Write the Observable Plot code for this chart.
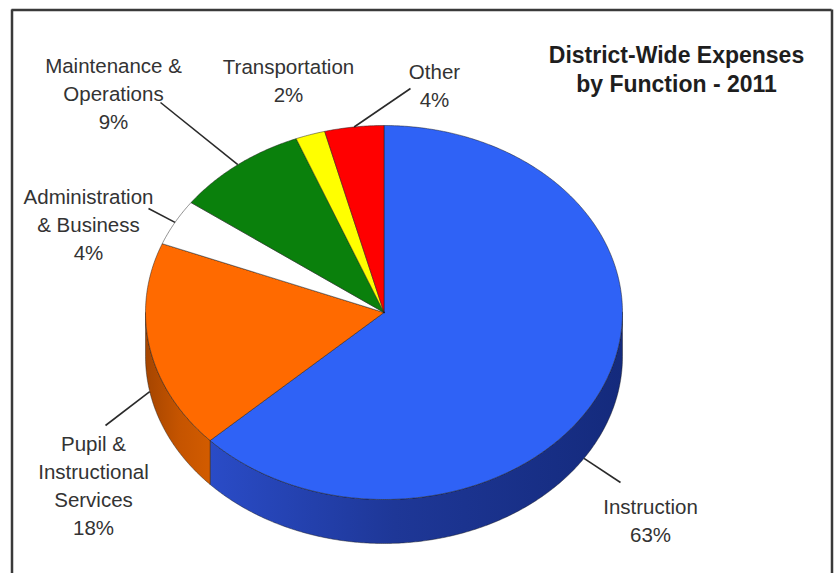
<!DOCTYPE html>
<html>
<head>
<meta charset="utf-8">
<script src="https://cdn.jsdelivr.net/npm/d3@7"></script>
<script src="https://cdn.jsdelivr.net/npm/@observablehq/plot@0.6"></script>
<style>
  html, body { margin: 0; padding: 0; background: #ffffff; }
  #chart svg { display: block; }
</style>
</head>
<body>
<div id="chart"></div>
<script>
// ---- Data ----
const categories = ["Instruction", "Pupil & Instructional Services", "Administration & Business", "Maintenance & Operations", "Transportation", "Other"];
const percents = [63, 18, 4, 9, 2, 4];
const labelLines = [
  ["Instruction"],
  ["Pupil &", "Instructional", "Services"],
  ["Administration", "& Business"],
  ["Maintenance &", "Operations"],
  ["Transportation"],
  ["Other"]
];
const titleLines = ["District-Wide Expenses", "by Function - 2011"];

// ---- Styles ----
const topColors = ["#2f62f6", "#ff6a00", "#ffffff", "#0a800c", "#ffff00", "#ff0000"];
const sideColors = ["url(#sideBlue)", "url(#sideOrange)", "#d9d9d9", "#065a07", "#b3b300", "#b30000"];

// ---- Layout (pixel-like data space) ----
const W = 834, H = 573;
const cx = 383.5, cy = 312, rx = 238.5, ry = 187, depth = 44;
const labelPos = [[650, 508], [93, 445], [88, 198], [113, 67], [288, 68], [434, 73]];
const leaderEnd = [[620, 482], [105, 425], [148, 208], [160, 102], null, [410, 88]];
const leaderRim = ["bottom", "bottom", "top", "top", null, "top"];
const leaderShift = [9.6, 0, 0, 0, 0, 0];
const fontSize = 20.5, lineH = 28;

function rim(deg, dy = 0) {
  const r = deg * Math.PI / 180;
  return {x: cx + rx * Math.sin(r), y: cy - ry * Math.cos(r) + dy};
}
function arc(a0, a1, dy = 0) {
  const n = Math.max(2, Math.ceil(Math.abs(a1 - a0) / 0.5));
  const pts = [];
  for (let i = 0; i <= n; i++) pts.push(rim(a0 + (a1 - a0) * i / n, dy));
  return pts;
}

// angles from the data (clockwise from 12 o'clock)
const total = d3.sum(percents);
const slices = [];
let acc = 0;
percents.forEach((p, i) => {
  const a0 = acc / total * 360;
  acc += p;
  const a1 = acc / total * 360;
  slices.push({i, name: categories[i], value: p, a0, a1, mid: (a0 + a1) / 2});
});

const marks = [];

// side faces (front half only: 90..270 degrees)
slices.forEach(s => {
  const b0 = Math.max(s.a0, 90), b1 = Math.min(s.a1, 270);
  if (b1 <= b0) return;
  const pts = [...arc(b0, b1, 0), ...arc(b1, b0, depth)];
  pts.push(pts[0]);
  marks.push(Plot.line(pts, {x: "x", y: "y", fill: sideColors[s.i], stroke: "#1a1a1a", strokeWidth: 0.8, strokeOpacity: 0.55, curve: "linear"}));
});

// top faces
slices.forEach(s => {
  const c = {x: cx, y: cy};
  const pts = [c, ...arc(s.a0, s.a1, 0), c];
  marks.push(Plot.line(pts, {x: "x", y: "y", fill: topColors[s.i], stroke: "#1a1a1a", strokeWidth: 0.8, strokeOpacity: 0.6, curve: "linear"}));
});

// leader lines
const leaders = [];
slices.forEach(s => {
  const end = leaderEnd[s.i];
  if (!end) return;
  const st = rim(s.mid + leaderShift[s.i], leaderRim[s.i] === "bottom" ? depth : 0);
  leaders.push({x1: st.x, y1: st.y, x2: end[0], y2: end[1]});
});
marks.push(Plot.link(leaders, {x1: "x1", y1: "y1", x2: "x2", y2: "y2", stroke: "#2a2a2a", strokeWidth: 1.6}));

// labels
const labels = slices.map(s => ({
  text: [...labelLines[s.i], s.value + "%"].join("\n"),
  x: labelPos[s.i][0],
  y: labelPos[s.i][1] - 0.71 * fontSize
}));
marks.push(Plot.text(labels, {
  x: "x", y: "y", text: "text", textAnchor: "middle", lineAnchor: "top",
  lineHeight: lineH / fontSize, fontSize, fill: "#333333",
  fontFamily: "'Liberation Sans', Arial, sans-serif"
}));

// title
marks.push(Plot.text([titleLines.join("\n")], {
  x: 676, y: 58 - 0.71 * 23, text: d => d, textAnchor: "middle", lineAnchor: "top",
  lineHeight: 29 / 23, fontSize: 23, fontWeight: "bold", fill: "#1e1e1e",
  fontFamily: "'Liberation Sans', Arial, sans-serif"
}));

// frame (left, top, right edges)
marks.push(Plot.ruleX([11.5, 831.5], {y1: 9.5, y2: H, stroke: "#3a3a3a", strokeWidth: 2.5}));
marks.push(Plot.ruleY([9.5], {x1: 11.5, x2: 831.5, stroke: "#3a3a3a", strokeWidth: 2.5}));

const svg = Plot.plot({
  width: W, height: H,
  margin: 0,
  x: {domain: [0, W], range: [0, W], axis: null},
  y: {domain: [0, H], range: [0, H], axis: null},
  style: {background: "#ffffff"},
  marks
});

// gradients for the side shading
const defs = d3.select(svg).insert("defs", ":first-child");
const gb = defs.append("linearGradient").attr("id", "sideBlue")
  .attr("gradientUnits", "userSpaceOnUse").attr("x1", 205).attr("x2", 625).attr("y1", 0).attr("y2", 0);
gb.append("stop").attr("offset", 0).attr("stop-color", "#2a4cc8");
gb.append("stop").attr("offset", 0.45).attr("stop-color", "#1e3797");
gb.append("stop").attr("offset", 1).attr("stop-color", "#142a7c");
const go = defs.append("linearGradient").attr("id", "sideOrange")
  .attr("gradientUnits", "userSpaceOnUse").attr("x1", 145).attr("x2", 212).attr("y1", 0).attr("y2", 0);
go.append("stop").attr("offset", 0).attr("stop-color", "#a54500");
go.append("stop").attr("offset", 0.5).attr("stop-color", "#c55400");
go.append("stop").attr("offset", 1).attr("stop-color", "#d35c00");

document.getElementById("chart").appendChild(svg);
</script>
</body>
</html>
